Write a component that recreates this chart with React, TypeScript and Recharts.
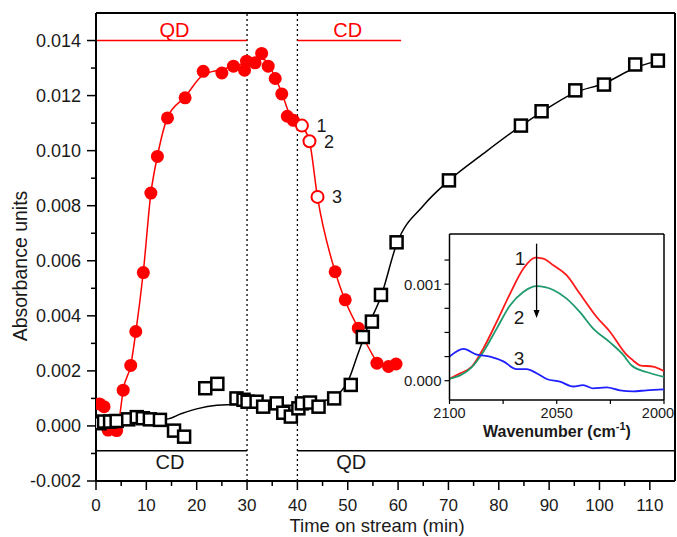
import React from 'react';
import {
  ComposedChart, Line, Scatter, XAxis, YAxis, ReferenceLine, ReferenceDot, LabelList, Label,
} from 'recharts';

// main panel, absorbance in units of 1e-3
const qdTime = [0.7, 1.6, 2.4, 4.1, 5.4, 6.9, 7.9, 9.4, 10.9, 12.2, 14.2, 17.7, 21.3, 25.0, 27.3, 29.5, 29.9, 31.6, 32.9, 34.2, 35.6, 36.9, 38.0, 39.2, 47.5, 49.5, 52.1, 55.8, 58.1, 59.6];
const qdAbs = [0.8, 0.7, -0.15, -0.17, 1.3, 2.2, 3.43, 5.57, 8.46, 9.79, 11.19, 11.92, 12.88, 12.82, 13.07, 12.92, 13.25, 13.19, 13.53, 13.07, 12.62, 12.06, 11.25, 11.1, 5.6, 4.58, 3.55, 2.28, 2.16, 2.25];

const spectraTime = [40.9, 42.4, 44.0];
const spectraAbs = [10.91, 10.34, 8.32];
const spectraLabels = ['1', '2', '3'];

const cdTime = [0.7, 1.6, 2.8, 4.1, 6.4, 8.1, 9.3, 10.7, 12.7, 15.5, 17.5, 21.7, 24.1, 27.9, 29.3, 30.1, 31.9, 33.2, 35.9, 37.2, 38.7, 40.2, 40.9, 42.5, 44.2, 47.3, 50.6, 53.0, 54.8, 56.6, 59.7, 70.1, 84.4, 88.5, 95.2, 100.9, 107.1, 111.6];
const cdAbs = [0.1, 0.16, 0.16, 0.18, 0.24, 0.32, 0.28, 0.24, 0.22, -0.17, -0.39, 1.37, 1.53, 1.0, 0.95, 0.88, 0.88, 0.7, 0.82, 0.48, 0.34, 0.64, 0.82, 0.85, 0.7, 1.0, 1.49, 3.23, 3.79, 4.76, 6.67, 8.92, 10.91, 11.43, 12.19, 12.4, 13.13, 13.27];

const qdFitTime = [4.5, 5.4, 6.9, 7.9, 9.4, 10.9, 12.2, 14.2, 17.7, 21.3, 25, 28, 30, 32, 33.5, 35.6, 37, 38.5, 40.9, 42.4, 44, 47.5, 49.5, 52.1, 55.8];
const qdFitAbs = [0, 1.3, 2.2, 3.4, 5.6, 8.45, 9.8, 11.2, 11.95, 12.75, 12.95, 13.1, 13.2, 13.35, 13.3, 12.65, 12.05, 11.3, 10.9, 10.34, 8.3, 5.6, 4.55, 3.55, 2.3];

const cdFitTime = [0, 5, 10, 14, 17, 20, 24, 28, 32, 36, 40, 44, 47, 50, 52, 54, 56.6, 59.7, 65, 70, 77, 84.4, 88.5, 95, 101, 107, 111.6];
const cdFitAbs = [0.15, 0.2, 0.25, 0.25, 0.45, 0.62, 0.75, 0.78, 0.78, 0.75, 0.75, 0.85, 1.05, 1.6, 2.6, 3.6, 4.7, 6.6, 8.0, 8.9, 9.9, 10.9, 11.4, 12.1, 12.45, 13.0, 13.27];

const xTicks = [0, 5, 10, 15, 20, 25, 30, 35, 40, 45, 50, 55, 60, 65, 70, 75, 80, 85, 90, 95, 100, 105, 110];
const yTicks = [-2, -1, 0, 1, 2, 3, 4, 5, 6, 7, 8, 9, 10, 11, 12, 13, 14];

// inset spectra
const wn1 = [2100, 2095, 2089.6, 2084.2, 2078, 2071.8, 2065.6, 2060.1, 2056.3, 2051.6, 2045.4, 2039.2, 2031.4, 2025.3, 2017.5, 2014.4, 2011.3, 2005.1, 2000];
const spec1 = [0.02, 0.076, 0.145, 0.335, 0.61, 0.9, 1.16, 1.276, 1.266, 1.196, 1.093, 0.9, 0.66, 0.51, 0.27, 0.21, 0.16, 0.145, 0.1];
const wn2 = [2100, 2089.6, 2084.2, 2078, 2071.8, 2065.6, 2059.4, 2051.6, 2045.4, 2039.2, 2033, 2025.3, 2019.1, 2015.2, 2008.2, 2000];
const spec2 = [0.02, 0.14, 0.3, 0.54, 0.78, 0.92, 0.98, 0.94, 0.85, 0.71, 0.54, 0.4, 0.27, 0.16, 0.09, 0.04];
const wn3 = [2100, 2093.5, 2087.3, 2081.1, 2074.9, 2068.7, 2064, 2059.4, 2054.7, 2048.5, 2042.3, 2037.7, 2033, 2026.8, 2020.6, 2014.4, 2008.2, 2000];
const spec3 = [0.25, 0.33, 0.27, 0.25, 0.2, 0.12, 0.12, 0.077, 0.018, -0.01, -0.06, -0.045, -0.08, -0.07, -0.1, -0.11, -0.1, -0.09];

const insetXTicks = [2000, 2025, 2050, 2075, 2100];
const insetYTicks = [0, 0.25, 0.5, 0.75, 1, 1.25];

const pts = (xs: number[], ys: number[]) => xs.map((x, i) => ({ x, y: ys[i] }));

const qdPts = pts(qdTime, qdAbs);
const spectraPts = spectraTime.map((x, i) => ({ x, y: spectraAbs[i], label: spectraLabels[i] }));
const cdPts = pts(cdTime, cdAbs);
const qdFit = pts(qdFitTime, qdFitAbs);
const cdFit = pts(cdFitTime, cdFitAbs);
const s1 = pts(wn1, spec1);
const s2 = pts(wn2, spec2);
const s3 = pts(wn3, spec3);

const RED = '#ff0000';
const TXT = '#1a1a1a';

const MainXTick = ({ x, y, payload }: any) => {
  const v = payload.value;
  const major = v % 10 === 0;
  return (
    <g>
      <line x1={x} y1={y} x2={x} y2={y + (major ? 9 : 5)} stroke="#000" strokeWidth={1.5} />
      {major && <text x={x} y={y + 30} textAnchor="middle" fontSize={17} fill={TXT}>{v}</text>}
    </g>
  );
};

const MainYTick = ({ x, y, payload }: any) => {
  const v = payload.value;
  const major = v % 2 === 0;
  return (
    <g>
      <line x1={x} y1={y} x2={x - (major ? 9 : 5)} y2={y} stroke="#000" strokeWidth={1.5} />
      {major && (
        <text x={x - 15} y={y} dy="0.36em" textAnchor="end" fontSize={18} fill={TXT}>
          {(v / 1000).toFixed(3)}
        </text>
      )}
    </g>
  );
};

const InsetXTick = ({ x, y, payload }: any) => {
  const v = payload.value;
  const major = v % 50 === 0;
  // the last label sits slightly inside the frame, as in the original
  const tx = v === 2000 ? x - 6 : x;
  return (
    <g>
      <line x1={x} y1={y} x2={x} y2={y + 4} stroke="#000" strokeWidth={1.2} />
      {major && <text x={tx} y={y + 18} textAnchor="middle" fontSize={14.5} fill={TXT}>{v}</text>}
    </g>
  );
};

const InsetYTick = ({ x, y, payload }: any) => {
  const v = payload.value;
  const major = v === 0 || v === 1;
  return (
    <g>
      <line x1={x} y1={y} x2={x - 5} y2={y} stroke="#000" strokeWidth={1.2} />
      {major && (
        <text x={x - 8} y={y} dy="0.36em" textAnchor="end" fontSize={15} fill={TXT}>
          {(v / 1000).toFixed(3)}
        </text>
      )}
    </g>
  );
};

const Square = ({ cx, cy }: any) => (
  <rect x={cx - 6} y={cy - 6} width={12} height={12} fill="#fff" stroke="#000" strokeWidth={2.5} />
);
const FilledCircle = ({ cx, cy }: any) => <circle cx={cx} cy={cy} r={6.5} fill={RED} />;
const OpenCircle = ({ cx, cy }: any) => (
  <circle cx={cx} cy={cy} r={6} fill="#fff" stroke={RED} strokeWidth={2} />
);

const Arrow = ({ x1, y1, x2, y2 }: any) => (
  <g>
    <line x1={x1} y1={y1} x2={x2} y2={y2 - 6} stroke="#000" strokeWidth={1.3} />
    <path d={`M${x2 - 3},${y2 - 8} L${x2 + 3},${y2 - 8} L${x2},${y2} Z`} fill="#000" />
  </g>
);

const frame = { stroke: '#000', strokeWidth: 2 };

export default function App() {
  return (
    <div style={{ position: 'absolute', left: 0, top: 0, width: 677, height: 537, background: '#fff', fontFamily: '"Liberation Sans", Arial, sans-serif' }}>
      <ComposedChart width={677} height={537} margin={{ top: 13, right: 2, left: 0, bottom: 0 }}>
        <XAxis
          dataKey="x" type="number" domain={[0, 115]} ticks={xTicks} interval={0} allowDataOverflow
          tick={MainXTick} tickSize={0} tickMargin={0} tickLine={false} axisLine={frame} height={56}
        >
          <Label
            content={() => (
              <text x={377} y={532} textAnchor="middle" fontSize={18.5} fill={TXT}>Time on stream (min)</text>
            )}
          />
        </XAxis>
        <YAxis
          dataKey="y" type="number" domain={[-2, 15]} ticks={yTicks} interval={0} allowDataOverflow
          tick={MainYTick} tickSize={0} tickMargin={0} tickLine={false} axisLine={frame} width={96}
        >
          <Label
            content={() => (
              <text x={20} y={266} transform="rotate(-90 20 266)" textAnchor="middle" dominantBaseline="central" fontSize={19.5} fill={TXT}>
                Absorbance units
              </text>
            )}
          />
        </YAxis>

        <ReferenceLine y={15} {...frame} />
        <ReferenceLine x={115} {...frame} />
        <ReferenceLine x={30} stroke="#000" strokeWidth={1.3} strokeDasharray="2 3" />
        <ReferenceLine x={40} stroke="#000" strokeWidth={1.3} strokeDasharray="2 3" />

        <ReferenceLine segment={[{ x: 0, y: 14 }, { x: 30, y: 14 }]} stroke={RED} strokeWidth={1.5} />
        <ReferenceLine segment={[{ x: 40, y: 14 }, { x: 60.6, y: 14 }]} stroke={RED} strokeWidth={1.5} />
        <ReferenceLine segment={[{ x: 0, y: -0.9 }, { x: 30, y: -0.9 }]} stroke="#000" strokeWidth={1.5} />
        <ReferenceLine segment={[{ x: 40, y: -0.9 }, { x: 115, y: -0.9 }]} stroke="#000" strokeWidth={1.5} />

        <ReferenceDot x={15.6} y={14.38} r={0} label={{ value: 'QD', position: 'center', fill: RED, fontSize: 20 }} />
        <ReferenceDot x={50} y={14.38} r={0} label={{ value: 'CD', position: 'center', fill: RED, fontSize: 20 }} />
        <ReferenceDot x={14.7} y={-1.3} r={0} label={{ value: 'CD', position: 'center', fill: TXT, fontSize: 20 }} />
        <ReferenceDot x={50.7} y={-1.3} r={0} label={{ value: 'QD', position: 'center', fill: TXT, fontSize: 20 }} />

        <Line data={qdFit} dataKey="y" type="monotone" dot={false} stroke={RED} strokeWidth={1.5} isAnimationActive={false} />
        <Line data={cdFit} dataKey="y" type="monotone" dot={false} stroke="#000" strokeWidth={1.5} isAnimationActive={false} />

        <Scatter data={qdPts} dataKey="y" shape={FilledCircle} isAnimationActive={false} />
        <Scatter data={cdPts} dataKey="y" shape={Square} isAnimationActive={false} />
        <Scatter data={spectraPts} dataKey="y" shape={OpenCircle} isAnimationActive={false}>
          <LabelList dataKey="label" position="right" offset={10} fontSize={18} fill={TXT} />
        </Scatter>
      </ComposedChart>

      <div style={{ position: 'absolute', left: 380, top: 225 }}>
        <ComposedChart width={297} height={230} margin={{ top: 9, right: 13, left: 0, bottom: 0 }}>
          <XAxis
            dataKey="x" type="number" domain={[2000, 2100]} reversed ticks={insetXTicks} interval={0} allowDataOverflow
            tick={InsetXTick} tickSize={0} tickMargin={0} tickLine={false} axisLine={{ stroke: '#000', strokeWidth: 1.5 }} height={55}
          >
            <Label
              content={() => (
                <text x={177} y={212} textAnchor="middle" fontSize={16} fontWeight="bold" fill={TXT}>
                  Wavenumber (cm<tspan dy={-7} fontSize={11}>-1</tspan><tspan dy={7}>)</tspan>
                </text>
              )}
            />
          </XAxis>
          <YAxis
            dataKey="y" type="number" domain={[-0.2, 1.52]} ticks={insetYTicks} interval={0} allowDataOverflow
            tick={InsetYTick} tickSize={0} tickMargin={0} tickLine={false} axisLine={{ stroke: '#000', strokeWidth: 1.5 }} width={69.5}
          />
          <ReferenceLine y={1.52} stroke="#000" strokeWidth={1.5} />
          <ReferenceLine x={2000} stroke="#000" strokeWidth={1.5} />

          <Line data={s1} dataKey="y" type="monotone" dot={false} stroke="#ff1a1a" strokeWidth={1.8} isAnimationActive={false} />
          <Line data={s2} dataKey="y" type="monotone" dot={false} stroke="#1f9a6c" strokeWidth={1.8} isAnimationActive={false} />
          <Line data={s3} dataKey="y" type="monotone" dot={false} stroke="#1f1fff" strokeWidth={1.8} isAnimationActive={false} />

          <ReferenceLine segment={[{ x: 2059.4, y: 1.42 }, { x: 2059.4, y: 0.65 }]} shape={Arrow} />
          <ReferenceDot x={2067.1} y={1.27} r={0} label={{ value: '1', position: 'center', fill: TXT, fontSize: 19 }} />
          <ReferenceDot x={2067.6} y={0.66} r={0} label={{ value: '2', position: 'center', fill: TXT, fontSize: 19 }} />
          <ReferenceDot x={2067.6} y={0.235} r={0} label={{ value: '3', position: 'center', fill: TXT, fontSize: 19 }} />
        </ComposedChart>
      </div>
    </div>
  );
}
